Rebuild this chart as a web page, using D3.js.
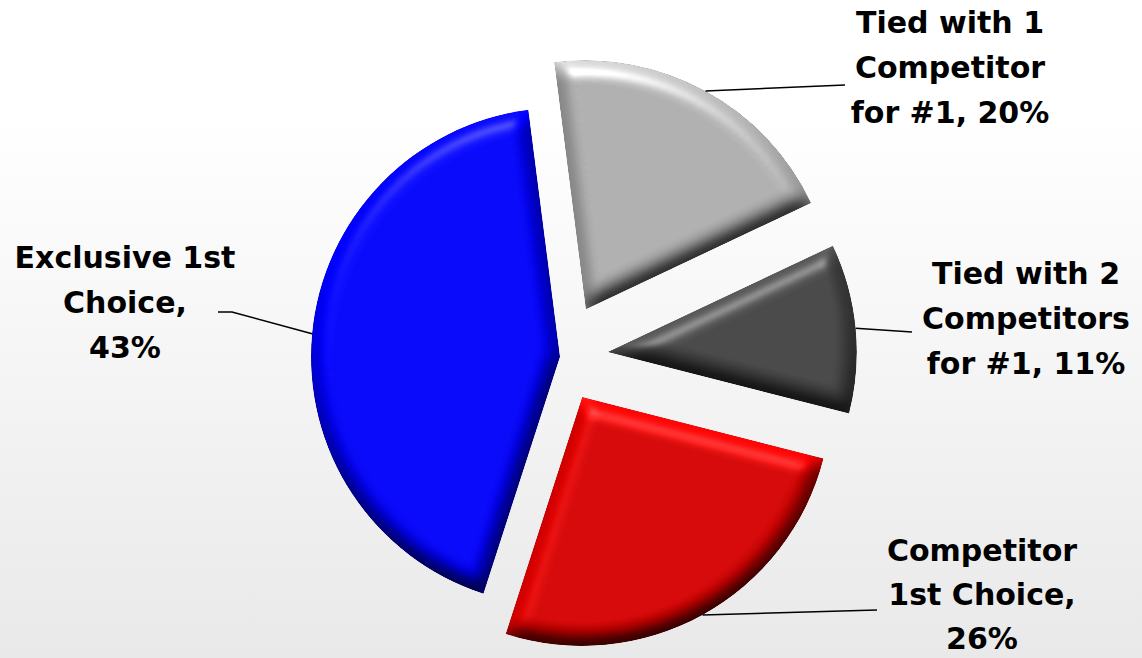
<!DOCTYPE html>
<html>
<head>
<meta charset="utf-8">
<script src="https://cdn.jsdelivr.net/npm/d3@7"></script>
<style>
  html, body { margin: 0; padding: 0; background: #fff; }
  svg { display: block; }
</style>
</head>
<body>
<svg id="chart" width="1142" height="658"></svg>
<script>
// ---- data ----
const categories = ["Tied with 1 Competitor for #1", "Tied with 2 Competitors for #1", "Competitor 1st Choice", "Exclusive 1st Choice"];
const values = [20, 11, 26, 43];
const colors = ["#a6a6a6", "#404040", "#cc0000", "#0000f0"];
// label wrapping ({v} is replaced by the value)
const labelWrap = [
  ["Tied with 1", "Competitor", "for #1, {v}%"],
  ["Tied with 2", "Competitors", "for #1, {v}%"],
  ["Competitor", "1st Choice,", "{v}%"],
  ["Exclusive 1st", "Choice,", "{v}%"]
];

// ---- layout ----
const W = 1142, H = 658;
const cx = 560, cy = 356.7, R = 249;
const startDeg = -7.3;
const explode = [54, 48, 46, 0];
const labelPos = [
  {x: 950, y: 33},
  {x: 1026, y: 284},
  {x: 982, y: 561},
  {x: 125, y: 268}
];
const leaderEnd = [
  [[845, 85]],
  [[912, 332]],
  [[877, 610]],
  [[232, 312], [218, 312]]
];
const lineH = [45, 45, 44, 45];

const svg = d3.select("#chart");
const defs = svg.append("defs");

const bg = defs.append("linearGradient").attr("id", "bg").attr("x1", 0).attr("y1", 0).attr("x2", 0).attr("y2", 1);
bg.append("stop").attr("offset", "0%").attr("stop-color", "#ffffff");
bg.append("stop").attr("offset", "18%").attr("stop-color", "#ffffff");
bg.append("stop").attr("offset", "100%").attr("stop-color", "#e9e9e9");

svg.append("rect").attr("width", W).attr("height", H).attr("fill", "url(#bg)");

// bevel filter
const f = defs.append("filter").attr("id", "bevel")
  .attr("x", "-10%").attr("y", "-10%").attr("width", "120%").attr("height", "120%")
  .attr("color-interpolation-filters", "sRGB");
f.append("feGaussianBlur").attr("in", "SourceAlpha").attr("stdDeviation", 9).attr("result", "blur");
const dl = f.append("feDiffuseLighting").attr("in", "blur").attr("surfaceScale", 9)
  .attr("diffuseConstant", 1).attr("lighting-color", "#ffffff").attr("result", "diff0");
dl.append("feDistantLight").attr("azimuth", 258).attr("elevation", 52);
f.append("feGaussianBlur").attr("in", "diff0").attr("stdDeviation", 1.2).attr("result", "diff");
f.append("feComposite").attr("in", "SourceGraphic").attr("in2", "diff")
  .attr("operator", "arithmetic").attr("k1", 1.27).attr("k2", 0).attr("k3", 0).attr("k4", 0).attr("result", "lit");
const sl = f.append("feSpecularLighting").attr("in", "blur").attr("surfaceScale", 9)
  .attr("specularConstant", 0.3).attr("specularExponent", 35).attr("lighting-color", "#ffffff").attr("result", "spec0");
sl.append("feDistantLight").attr("azimuth", 258).attr("elevation", 52);
f.append("feGaussianBlur").attr("in", "spec0").attr("stdDeviation", 1.5).attr("result", "spec");
f.append("feComposite").attr("in", "spec").attr("in2", "SourceAlpha").attr("operator", "in").attr("result", "specIn");
f.append("feComposite").attr("in", "lit").attr("in2", "specIn").attr("operator", "arithmetic")
  .attr("k1", 0).attr("k2", 1).attr("k3", 1).attr("k4", 0).attr("result", "sum");
f.append("feComposite").attr("in", "sum").attr("in2", "SourceAlpha").attr("operator", "in");

const a0 = startDeg * Math.PI / 180;
const pie = d3.pie().sort(null).value(d => d).startAngle(a0).endAngle(a0 + 2 * Math.PI);
const arc = d3.arc().innerRadius(0).outerRadius(R);
const arcs = pie(values);

const slices = svg.append("g").attr("transform", `translate(${cx},${cy})`);

arcs.forEach((d, i) => {
  const mid = (d.startAngle + d.endAngle) / 2;
  const ox = explode[i] * Math.sin(mid), oy = -explode[i] * Math.cos(mid);
  d.ox = ox; d.oy = oy; d.mid = mid;
  slices.append("path")
    .attr("d", arc(d))
    .attr("transform", `translate(${ox},${oy})`)
    .attr("fill", colors[i])
    .attr("filter", "url(#bevel)");
});

// leader lines
const lineGen = d3.line();
arcs.forEach((d, i) => {
  const sx = cx + d.ox + R * Math.sin(d.mid);
  const sy = cy + d.oy - R * Math.cos(d.mid);
  const pts = [[sx, sy]].concat(leaderEnd[i]);
  svg.append("path").attr("d", lineGen(pts))
    .attr("fill", "none").attr("stroke", "#000").attr("stroke-width", 1.6);
});

// labels
arcs.forEach((d, i) => {
  const lines = labelWrap[i].map(s => s.replace("{v}", values[i]));
  const t = svg.append("text")
    .attr("x", labelPos[i].x).attr("y", labelPos[i].y)
    .attr("text-anchor", "middle")
    .attr("font-family", "'DejaVu Sans', sans-serif")
    .attr("font-weight", "bold")
    .attr("font-size", 30)
    .attr("fill", "#000");
  lines.forEach((ln, j) => {
    t.append("tspan").attr("x", labelPos[i].x).attr("y", labelPos[i].y + j * lineH[i]).text(ln);
  });
});
</script>
</body>
</html>
